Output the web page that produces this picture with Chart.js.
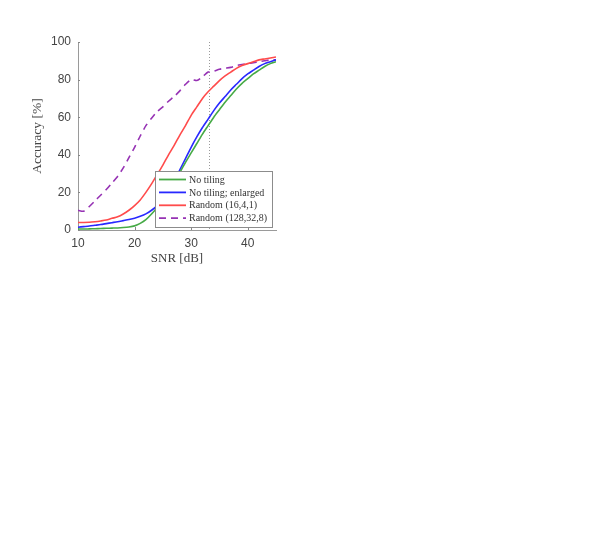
<!DOCTYPE html>
<html>
<head>
<meta charset="utf-8">
<script src="https://cdn.jsdelivr.net/npm/chart.js@4/dist/chart.umd.min.js"></script>
<style>
  html, body { margin: 0; padding: 0; background: #ffffff; }
  #wrap { position: absolute; left: 0; top: 0; width: 594px; height: 551px; }
</style>
</head>
<body>
<div id="wrap"><canvas id="c" width="594" height="551"></canvas></div>
<script>
// ---- data ----
const snr = [10,11,12,13,14,15,16,17,18,19,20,21,22,23,24,25,26,27,28,29,30,31,32,33,34,35,36,37,38,39,40,41,42,43,44,45];
const noTiling = [0.5,0.5,0.6,0.7,0.8,0.9,1.0,1.1,1.3,1.6,2.2,3.5,5.5,8.5,12,16,20.5,25.5,30.5,36,41,46,51,55.5,60,64,68,71.5,75,78,80.5,83,85,87,88.5,89.5];
const noTilingEnlarged = [1.5,1.8,2.1,2.5,2.9,3.4,3.9,4.4,5.0,5.6,6.3,7.3,8.6,10.5,13,16.5,21,26.5,32,38,44,49.5,54.5,59,63.5,67.5,71,74.5,77.5,80.5,83,85,87,88.5,89.5,90.5];
const random16 = [4.0,4.0,4.1,4.4,4.8,5.3,6.2,7.0,8.5,10.5,13,16,20,24.5,29.5,34.5,40,45,50.5,55.5,61,65.5,70,73.5,76.5,79.5,82,84,86,87.5,88.5,89.5,90.5,91,91.5,92];
const random128 = [10.5,10,12.5,15.5,18.5,21.5,25,28.5,33,38.5,44,50,55.5,59.5,63,65.5,68.5,71,74,77.5,80,79.5,81.5,84,84.5,85.5,86,86.5,87.5,88,88.5,89,89.5,90,90.5,90.5];
const seriesLabels = ["No tiling", "No tiling; enlarged", "Random (16,4,1)", "Random (128,32,8)"];
const xTicks = [10,20,30,40];
const yTicks = [0,20,40,60,80,100];
const markerSnr = [33.2];
const xTitle = "SNR [dB]";
const yTitle = "Accuracy [%]";

const colors = ["rgb(70,170,70)", "rgb(40,40,255)", "rgb(255,75,75)", "rgb(150,50,180)"];
const dashes = [[], [], [], [7,5]];
const seriesValues = [noTiling, noTilingEnlarged, random16, random128];

const datasets = seriesValues.map((vals, k) => ({
  label: seriesLabels[k],
  data: snr.map((x, i) => ({x: x, y: vals[i]})),
  borderColor: colors[k],
  backgroundColor: colors[k],
  borderWidth: 1.6,
  borderDash: dashes[k],
  pointRadius: 0,
  tension: 0.25,
  fill: false
}));

// vertical dotted marker + inward ticks
const markerPlugin = {
  id: 'marker',
  beforeDatasetsDraw(chart) {
    const {ctx, scales: {x, y}} = chart;
    ctx.save();
    ctx.strokeStyle = '#9a9a9a';
    ctx.lineWidth = 1;
    ctx.setLineDash([1, 2]);
    markerSnr.forEach(v => {
      const px = Math.round(x.getPixelForValue(v)) + 0.5;
      ctx.beginPath();
      ctx.moveTo(px, y.getPixelForValue(100));
      ctx.lineTo(px, y.getPixelForValue(0));
      ctx.stroke();
    });
    ctx.setLineDash([]);
    ctx.strokeStyle = '#888';
    xTicks.forEach(v => {
      const px = Math.round(x.getPixelForValue(v)) + 0.5;
      const py = y.getPixelForValue(0);
      ctx.beginPath(); ctx.moveTo(px, py); ctx.lineTo(px, py - 3); ctx.stroke();
    });
    yTicks.forEach(v => {
      const py = Math.round(y.getPixelForValue(v)) + 0.5;
      const px = x.getPixelForValue(10);
      ctx.beginPath(); ctx.moveTo(px, py); ctx.lineTo(px + 2, py); ctx.stroke();
    });
    ctx.restore();
  }
};

// legend box drawn inside the plot area (lower right)
const legendPlugin = {
  id: 'inLegend',
  afterDraw(chart) {
    const {ctx, chartArea} = chart;
    const bx = chartArea.right - 121, by = chartArea.bottom - 59, bw = 117, bh = 56;
    ctx.save();
    ctx.fillStyle = '#ffffff';
    ctx.fillRect(bx, by, bw, bh);
    ctx.strokeStyle = '#8c8c8c';
    ctx.lineWidth = 1;
    ctx.strokeRect(bx + 0.5, by + 0.5, bw, bh);
    ctx.font = '10px "Liberation Serif", "DejaVu Serif", serif';
    ctx.textBaseline = 'middle';
    ctx.textAlign = 'left';
    chart.data.datasets.forEach((ds, i) => {
      const ry = by + 8.5 + i * 12.9;
      ctx.strokeStyle = ds.borderColor;
      ctx.lineWidth = 1.8;
      ctx.setLineDash(ds.borderDash || []);
      ctx.beginPath();
      ctx.moveTo(bx + 4, ry);
      ctx.lineTo(bx + 31, ry);
      ctx.stroke();
      ctx.setLineDash([]);
      ctx.fillStyle = '#333';
      ctx.fillText(ds.label, bx + 34, ry + 0.5);
    });
    ctx.restore();
  }
};

new Chart(document.getElementById('c'), {
  type: 'line',
  data: { datasets: datasets },
  plugins: [markerPlugin, legendPlugin],
  options: {
    responsive: false,
    devicePixelRatio: 1,
    animation: false,
    layout: { padding: { left: 0, top: 42, right: 318, bottom: 281 } },
    plugins: { legend: { display: false }, tooltip: { enabled: false } },
    scales: {
      x: {
        type: 'linear',
        min: 10, max: 45,
        afterFit(scale) { scale.height = 40; },
        afterBuildTicks(scale) { scale.ticks = xTicks.map(v => ({value: v})); },
        grid: { display: false, drawTicks: false },
        border: { display: true, color: '#9a9a9a', width: 1 },
        ticks: {
          padding: 6,
          color: '#444',
          font: { family: '"Liberation Sans", Arial, sans-serif', size: 12 },
          maxRotation: 0
        },
        title: {
          display: true, text: xTitle, color: '#444',
          font: { family: '"Liberation Serif", "DejaVu Serif", serif', size: 13 },
          padding: { top: 0, bottom: 4 }
        }
      },
      y: {
        type: 'linear',
        min: 0, max: 100,
        afterFit(scale) { scale.width = 78; },
        afterBuildTicks(scale) { scale.ticks = yTicks.map(v => ({value: v})); },
        grid: { display: false, drawTicks: false },
        border: { display: true, color: '#9a9a9a', width: 1 },
        ticks: {
          padding: 7,
          color: '#444',
          font: { family: '"Liberation Sans", Arial, sans-serif', size: 12 }
        },
        title: {
          display: true, text: yTitle, color: '#444',
          font: { family: '"Liberation Serif", "DejaVu Serif", serif', size: 13.5 },
          padding: { top: 29, bottom: 0 }
        }
      }
    }
  }
});
</script>
</body>
</html>
